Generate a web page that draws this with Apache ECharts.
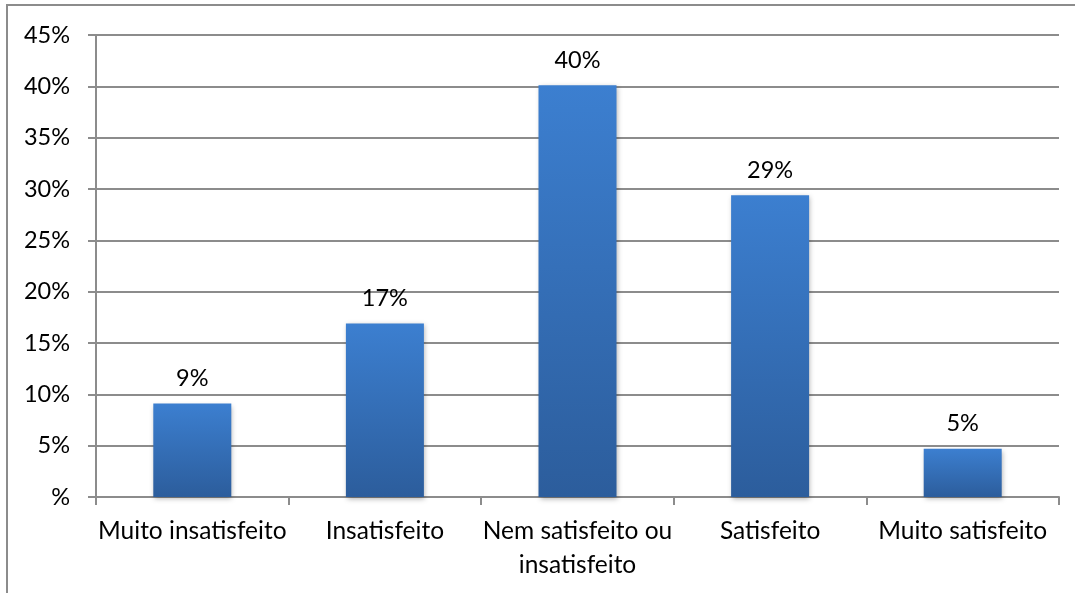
<!DOCTYPE html>
<html>
<head>
<meta charset="utf-8">
<script src="https://cdn.jsdelivr.net/npm/echarts@6/dist/echarts.min.js"></script>
<style>
html,body{margin:0;padding:0;background:#fff;}
#chart{width:1075px;height:593px;}
</style>
</head>
<body>
<div id="chart"></div>
<script>
var categories = ['Muito insatisfeito', 'Insatisfeito', 'Nem satisfeito ou\ninsatisfeito', 'Satisfeito', 'Muito satisfeito'];
var values = [9.1, 16.9, 40.1, 29.4, 4.7];
var yTicks = [0, 5, 10, 15, 20, 25, 30, 35, 40, 45];

var FONT = 'Lato, "Open Sans", sans-serif';
var chart = echarts.init(document.getElementById('chart'), null, {renderer: 'canvas'});
chart.setOption({
  animation: false,
  backgroundColor: '#fff',
  graphic: [{
    type: 'rect',
    shape: {x: 7, y: 5, width: 1200, height: 800},
    style: {fill: 'none', stroke: '#8c8c8c', lineWidth: 2},
    silent: true, z: -1
  }],
  grid: {left: 96, right: 16, top: 35, bottom: 96, containLabel: false},
  xAxis: {
    type: 'category',
    data: categories,
    axisLine: {show: true, lineStyle: {color: '#8c8c8c', width: 2}},
    axisTick: {show: true, length: 8, lineStyle: {color: '#8c8c8c', width: 2}},
    axisLabel: {color: '#000', fontFamily: FONT, fontSize: 24.5, margin: 17, lineHeight: 34, interval: 0}
  },
  yAxis: {
    type: 'value',
    min: 0, max: 45, interval: 5,
    axisLine: {show: true, lineStyle: {color: '#8c8c8c', width: 2}},
    axisTick: {show: true, length: 8, lineStyle: {color: '#8c8c8c', width: 2}},
    splitLine: {show: true, lineStyle: {color: '#8c8c8c', width: 2}},
    axisLabel: {
      color: '#000', fontFamily: FONT, fontSize: 23.5, margin: 26,
      formatter: function (v) { return v === 0 ? '%' : v + '%'; }
    }
  },
  series: [{
    type: 'bar',
    data: values,
    barWidth: 78,
    itemStyle: {
      color: new echarts.graphic.LinearGradient(0, 0, 0, 1, [
        {offset: 0, color: '#3c7fd0'},
        {offset: 1, color: '#2c5d9c'}
      ]),
      shadowColor: 'rgba(0,0,0,0.3)',
      shadowBlur: 5,
      shadowOffsetX: 1,
      shadowOffsetY: 2
    },
    label: {
      show: true, position: 'top', distance: 13,
      color: '#000', fontFamily: FONT, fontSize: 23.5,
      formatter: function (p) { return Math.round(p.value) + '%'; }
    }
  }]
});
</script>
</body>
</html>
